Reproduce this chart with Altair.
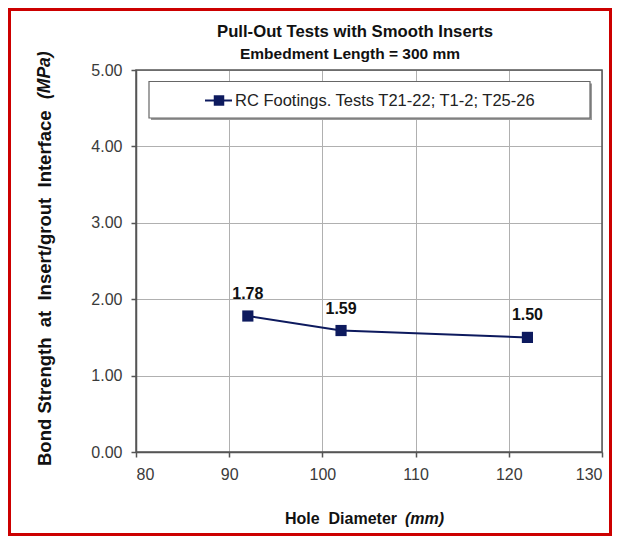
import altair as alt
import pandas as pd

# Data
hole_diameter = [92, 102, 122]
bond_strength = [1.78, 1.59, 1.50]
x_ticks = [80, 90, 100, 110, 120, 130]
y_grid = [0, 0.5, 1, 1.5, 2, 2.5, 3, 3.5, 4, 4.5, 5]

NB = "\u00a0"
title_text = "Pull-Out Tests with Smooth Inserts"
subtitle_text = "Embedment Length = 300 mm"
legend_text = "RC Footings. Tests T21-22; T1-2; T25-26"
x_title = "Hole" + NB * 2 + "Diameter"
x_unit = "(mm)"
y_title = "Bond" + NB + "Strength" + NB * 2 + "at" + NB * 2 + "Insert/grout" + NB * 2 + "Interface"
y_unit = "(MPa)"

NAVY = "#0d1a5e"
FONT = "Liberation Sans"

df = pd.DataFrame({"d": hole_diameter, "s": bond_strength})
one = pd.DataFrame({"a": [0]})

xs = alt.Scale(domain=[80, 130], nice=False, zero=False)
ys = alt.Scale(domain=[0, 5], nice=False)

x_axis = alt.Axis(values=x_ticks, title=None, grid=True, gridColor="#b0b0b0", gridWidth=1,
                  domain=True, domainColor="#555555", domainWidth=1.5,
                  tickColor="#555555", tickSize=5, tickWidth=1.5,
                  labelFont=FONT, labelFontSize=16, labelColor="#3a3a3a", labelPadding=9)
y_axis = alt.Axis(values=y_grid, title=None, grid=True, gridColor="#b0b0b0", gridWidth=1,
                  domain=True, domainColor="#555555", domainWidth=1.5,
                  tickColor="#555555", tickSize=5, tickWidth=1.5,
                  tickOpacity=alt.expr("datum.value % 1 == 0 ? 1 : 0"),
                  labelExpr="datum.value % 1 == 0 ? format(datum.value, '.2f') : ''",
                  labelFont=FONT, labelFontSize=16, labelColor="#3a3a3a", labelPadding=9)

base = alt.Chart(df)
line = base.mark_line(color=NAVY, strokeWidth=2).encode(
    x=alt.X("d:Q", scale=xs, axis=x_axis),
    y=alt.Y("s:Q", scale=ys, axis=y_axis),
)
pts = base.mark_point(shape="square", filled=True, color=NAVY, size=125, opacity=1).encode(
    x=alt.X("d:Q", scale=xs), y=alt.Y("s:Q", scale=ys))
labels = base.mark_text(font=FONT, fontSize=16, fontWeight="bold", color="#111111", dy=-22).encode(
    x=alt.X("d:Q", scale=xs), y=alt.Y("s:Q", scale=ys), text=alt.Text("s:Q", format=".2f"))

deco = alt.Chart(one)

# top and right border of the plot area
border = deco.mark_rect(fillOpacity=0, stroke="#555555", strokeWidth=1.5).encode(
    x=alt.value(0), x2=alt.value(466), y=alt.value(0), y2=alt.value(382))

# legend box with shadow
leg_shadow = deco.mark_rect(fill="#9a9a9a").encode(
    x=alt.value(15), x2=alt.value(456), y=alt.value(13.5), y2=alt.value(50))
leg_box = deco.mark_rect(fill="white", stroke="#666666", strokeWidth=1.2).encode(
    x=alt.value(13), x2=alt.value(454), y=alt.value(11.5), y2=alt.value(48))
leg_line = deco.mark_rule(color=NAVY, strokeWidth=2).encode(
    x=alt.value(69), x2=alt.value(96), y=alt.value(30.5))
leg_sym = deco.mark_point(shape="square", filled=True, color=NAVY, size=110, opacity=1).encode(
    x=alt.value(83), y=alt.value(30.5))
leg_txt = deco.mark_text(font=FONT, fontSize=16.5, color="#222222", align="left", baseline="middle").encode(
    x=alt.value(99), y=alt.value(31), text=alt.value(legend_text))

# titles
t1 = deco.mark_text(font=FONT, fontSize=16.7, fontWeight="bold", color="#111111", baseline="middle").encode(
    x=alt.value(219), y=alt.value(-38), text=alt.value(title_text))
t2 = deco.mark_text(font=FONT, fontSize=15.5, fontWeight="bold", color="#111111", baseline="middle").encode(
    x=alt.value(214), y=alt.value(-16), text=alt.value(subtitle_text))

# axis titles with italic units
xt1 = deco.mark_text(font=FONT, fontSize=16, fontWeight="bold", color="#111111", align="left", baseline="middle").encode(
    x=alt.value(149), y=alt.value(449), text=alt.value(x_title))
xt2 = deco.mark_text(font=FONT, fontSize=16, fontWeight="bold", fontStyle="italic", color="#111111", align="left", baseline="middle").encode(
    x=alt.value(269), y=alt.value(449), text=alt.value(x_unit))
yt1 = deco.mark_text(font=FONT, fontSize=18.5, fontWeight="bold", color="#111111", align="left", baseline="middle", angle=270).encode(
    x=alt.value(-91), y=alt.value(396), text=alt.value(y_title))
yt2 = deco.mark_text(font=FONT, fontSize=17.5, fontWeight="bold", fontStyle="italic", color="#111111", align="left", baseline="middle", angle=270).encode(
    x=alt.value(-91), y=alt.value(29), text=alt.value(y_unit))

# red outer frame
frame = deco.mark_rect(fillOpacity=0, stroke="#cc0000", strokeWidth=3).encode(
    x=alt.value(-126.5), x2=alt.value(474.5), y=alt.value(-60.5), y2=alt.value(464.5))

chart = alt.layer(
    line, border, leg_shadow, leg_box, leg_line, leg_sym, leg_txt, pts, labels,
    t1, t2, xt1, xt2, yt1, yt2, frame
).properties(
    width=466, height=382,
    autosize=alt.AutoSizeParams(type="none"),
    padding={"left": 128, "top": 62, "right": 10, "bottom": 84},
).configure_view(stroke=None).configure(background="white")

chart.save("out.html", embed_options={"renderer": "svg", "actions": False})
